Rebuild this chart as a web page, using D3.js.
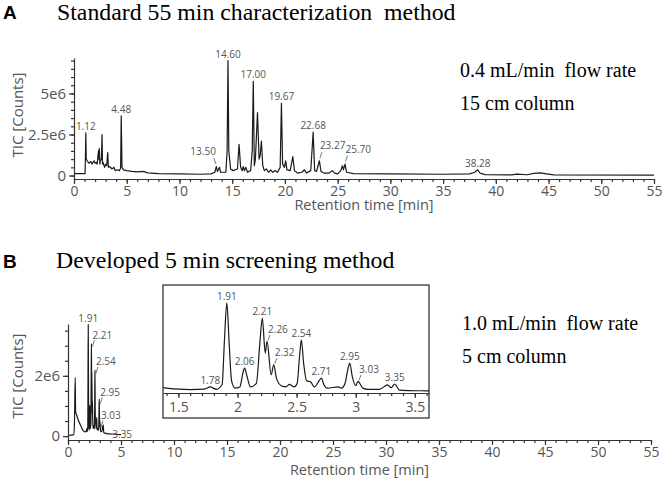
<!DOCTYPE html>
<html>
<head>
<meta charset="utf-8">
<script src="https://cdn.jsdelivr.net/npm/d3@7"></script>
<style>
  body { margin: 0; background: #fff; }
  svg text { white-space: pre; }
  .sans { font-family: "Open Sans", "Noto Sans", sans-serif; }
  .serif { font-family: "Liberation Serif", "Times New Roman", serif; }
  .axis path, .axis line { stroke: #333; stroke-width: 1.2; }
  .axis text { fill: #555; font-family: "Open Sans", sans-serif; }
</style>
</head>
<body>
<svg id="chart" width="666" height="495"></svg>
<script>
// Panel A: standard 55 min method, [time min, TIC x 1e6]
const traceA = [[0, 0.12], [1.05, 0.12], [1.08, 1.0], [1.12, 2.6], [1.16, 1.0], [1.25, 0.9], [1.4, 0.75],
  [1.6, 0.85], [1.7, 0.7], [1.9, 0.9], [2.0, 0.75], [2.1, 0.8], [2.2, 0.7], [2.32, 1.5], [2.36, 1.0],
  [2.4, 1.65], [2.45, 0.7], [2.5, 0.9], [2.6, 1.0], [2.66, 2.5], [2.7, 0.7], [2.75, 0.8], [2.9, 0.5],
  [3.0, 0.7], [3.1, 0.6], [3.2, 1.4], [3.26, 0.5], [3.4, 0.55], [3.6, 0.4], [3.8, 0.5], [3.9, 0.3],
  [4.1, 0.35], [4.3, 0.3], [4.42, 0.45], [4.48, 3.64], [4.55, 0.5], [4.7, 0.35], [5.0, 0.3], [5.5, 0.25],
  [6.0, 0.22], [6.5, 0.25], [6.7, 0.22], [7.0, 0.16], [8, 0.12], [10, 0.1], [12, 0.08], [13.0, 0.1],
  [13.35, 0.2], [13.5, 0.55], [13.6, 0.25], [13.8, 0.5], [13.9, 0.2], [14.4, 0.2], [14.52, 1.5],
  [14.6, 7.0], [14.68, 1.5], [14.85, 0.4], [15.1, 0.3], [15.5, 0.4], [15.65, 1.9], [15.8, 0.5],
  [15.95, 0.3], [16.05, 0.55], [16.15, 0.3], [16.3, 0.5], [16.45, 0.2], [16.75, 0.3], [16.9, 1.5],
  [17.0, 5.74], [17.1, 0.6], [17.2, 1.0], [17.4, 3.84], [17.55, 1.0], [17.65, 1.2], [17.77, 2.1],
  [17.9, 0.6], [18.05, 0.3], [18.25, 0.4], [18.45, 0.2], [18.65, 0.35], [18.85, 0.2], [19.05, 0.3],
  [19.3, 0.2], [19.55, 0.5], [19.67, 4.4], [19.78, 0.7], [19.95, 0.5], [20.07, 0.9], [20.2, 0.35],
  [20.5, 0.3], [20.75, 1.16], [20.9, 0.3], [21.2, 0.15], [21.6, 0.2], [21.85, 0.35], [22.05, 0.15],
  [22.45, 0.3], [22.68, 2.64], [22.82, 0.3], [23.0, 0.25], [23.27, 0.9], [23.42, 0.25], [23.7, 0.15],
  [24.2, 0.15], [24.5, 0.3], [24.7, 0.15], [25.0, 0.1], [25.3, 0.3], [25.45, 0.6], [25.55, 0.35],
  [25.7, 0.7], [25.85, 0.2], [26.5, 0.12], [30, 0.1], [35, 0.08], [37.5, 0.1], [38.0, 0.2], [38.28, 0.35],
  [38.5, 0.15], [39, 0.06], [41.5, 0.04], [42, 0.09], [43, 0.05], [43.6, 0.13], [44.2, 0.16], [44.8, 0.1],
  [45.5, 0.04], [55, 0.03]];
const peakLabelsA = ["1.12", "4.48", "13.50", "14.60", "17.00", "19.67", "22.68", "23.27", "25.70", "38.28"];
const peakTimesA = [1.12, 4.48, 13.5, 14.6, 17.0, 19.67, 22.68, 23.27, 25.7, 38.28];
const peakHeightsA = [2.6, 3.64, 0.55, 7.0, 5.74, 4.4, 2.64, 0.9, 0.7, 0.35];

// Panel B: developed 5 min method, [time min, TIC x 1e6]
const traceB = [[0, 0.02], [0.55, 0.05], [0.62, 0.6], [0.68, 1.94], [0.72, 0.8], [0.8, 0.72], [1.0, 0.5],
  [1.2, 0.35], [1.4, 0.2], [1.6, 0.14], [1.72, 0.16], [1.77, 0.25], [1.82, 0.15], [1.87, 0.35], [1.89, 2.2],
  [1.91, 3.7], [1.93, 2.0], [1.95, 0.5], [1.98, 0.2], [2.02, 0.25], [2.045, 0.8], [2.06, 1.02], [2.08, 0.7],
  [2.11, 0.25], [2.16, 0.4], [2.19, 2.1], [2.21, 3.07], [2.235, 1.64], [2.25, 2.12], [2.285, 0.75],
  [2.307, 1.16], [2.33, 0.6], [2.37, 0.3], [2.41, 0.25], [2.44, 0.35], [2.48, 0.25], [2.505, 0.4],
  [2.525, 1.5], [2.54, 2.18], [2.56, 1.2], [2.585, 0.5], [2.62, 0.45], [2.65, 0.25], [2.69, 0.5],
  [2.71, 0.61], [2.73, 0.35], [2.76, 0.2], [2.85, 0.25], [2.88, 0.2], [2.91, 0.4], [2.935, 1.0],
  [2.95, 1.23], [2.97, 0.7], [3.0, 0.3], [3.02, 0.48], [3.06, 0.2], [3.1, 0.15], [3.2, 0.15], [3.27, 0.33],
  [3.3, 0.22], [3.33, 0.37], [3.37, 0.12], [3.45, 0.1], [3.6, 0.09], [4.0, 0.07], [5.0, 0.05]];
const peakLabelsB = ["1.91", "2.21", "2.54", "2.95", "3.03", "3.35"];
const peakLabelsInset = ["1.78", "1.91", "2.06", "2.21", "2.26", "2.32", "2.54", "2.71", "2.95", "3.03", "3.35"];
const peakTimesInset = [1.77, 1.91, 2.06, 2.21, 2.25, 2.307, 2.54, 2.71, 2.95, 3.02, 3.33];
const peakHeightsInset = [0.25, 3.7, 1.02, 3.07, 2.12, 1.16, 2.18, 0.61, 1.23, 0.48, 0.37];

// Axis ticks
const xTicks = [0, 5, 10, 15, 20, 25, 30, 35, 40, 45, 50, 55];
const xMinorTicks = d3.range(0, 56, 1);
const yTicksA = [0, 2.5, 5];
const yTickLabelsA = ["0", "2.5e6", "5e6"];
const yMinorTicksA = d3.range(0, 7.01, 0.5);
const yTicksB = [0, 2];
const yTickLabelsB = ["0", "2e6"];
const yMinorTicksB = d3.range(0, 3.51, 0.5);
const insetTicks = [1.5, 2, 2.5, 3, 3.5];
const insetMinorTicks = d3.range(1.4, 3.61, 0.1);

const svg = d3.select("#chart");
const traceColor = "#1a1a1a";
const labelColor = "#555";

// Scales
const xA = d3.scaleLinear().domain([0, 55]).range([74, 654]);
const yA = d3.scaleLinear().domain([-0.21, 7.16]).range([179, 58]);
const xB = d3.scaleLinear().domain([0, 55]).range([68, 651]);
const yB = d3.scaleLinear().domain([-0.13, 3.72]).range([440, 324]);
const inset = { x: 163, y: 285, w: 266, h: 133, axisY: 393 };
const xI = d3.scaleLinear().domain([1.37, 3.62]).range([inset.x, inset.x + inset.w]);
const yI = d3.scaleLinear().domain([0, 3.9]).range([inset.axisY, 298]);

function drawAxes(g, x, y, yTicks, yLabels, yMinor, xLabelY, yLabelMid) {
  const y0 = y.range()[0];
  const xLeft = x.range()[0];
  g.append("g").attr("class", "axis")
    .attr("transform", `translate(0,${y0})`)
    .call(d3.axisBottom(x).tickValues(xMinorTicks).tickSize(3).tickSizeOuter(0))
    .call((s) => s.select(".domain").remove())
    .call((s) => s.selectAll("text").remove());
  g.append("g").attr("class", "axis")
    .attr("transform", `translate(0,${y0})`)
    .call(d3.axisBottom(x).tickValues(xTicks).tickSize(5).tickSizeOuter(0).tickPadding(2))
    .call((s) => s.selectAll("text").style("font-size", "14px"));
  g.append("g").attr("class", "axis")
    .attr("transform", `translate(${xLeft},0)`)
    .call(d3.axisLeft(y).tickValues(yMinor).tickSize(3).tickSizeOuter(0))
    .call((s) => s.select(".domain").remove())
    .call((s) => s.selectAll("text").remove());
  g.append("g").attr("class", "axis")
    .attr("transform", `translate(${xLeft},0)`)
    .call(d3.axisLeft(y).tickValues(yTicks).tickSize(5).tickSizeOuter(0).tickPadding(3)
      .tickFormat((d, i) => yLabels[i]))
    .call((s) => s.selectAll("text").style("font-size", "15px"));

  g.append("text").attr("class", "sans")
    .attr("x", (x.range()[0] + x.range()[1]) / 2).attr("y", xLabelY)
    .attr("text-anchor", "middle").attr("fill", labelColor).style("font-size", "14.5px")
    .text("Retention time [min]");
  g.append("text").attr("class", "sans")
    .attr("transform", `translate(23,${yLabelMid}) rotate(-90)`)
    .attr("text-anchor", "middle").attr("fill", labelColor).style("font-size", "15px")
    .text("TIC [Counts]");
}

function drawTrace(g, trace, x, y, curve) {
  const line = d3.line().x((d) => x(d[0])).y((d) => y(d[1])).curve(curve);
  g.append("path")
    .datum(trace)
    .attr("d", line)
    .attr("fill", "none")
    .attr("stroke", traceColor)
    .attr("stroke-width", 1.2)
    .attr("stroke-linejoin", "round");
}

// label layout: "c" centered above, "r"/"l" with leader, "b" stacked with leader, "h" dash, "s" small leader
function drawPeakLabels(g, labels, times, heights, x, y, layout) {
  labels.forEach((txt, i) => {
    const px = x(times[i]);
    const py = y(heights[i]);
    const lay = layout[i] || { type: "c" };
    const t = g.append("text").attr("class", "sans").attr("fill", labelColor)
      .style("font-size", "10px").text(txt);
    const leader = (x1, y1, x2, y2) => g.append("line")
      .attr("x1", x1).attr("y1", y1).attr("x2", x2).attr("y2", y2)
      .attr("stroke", labelColor).attr("stroke-width", 0.8);
    if (lay.type === "c") {
      t.attr("x", px).attr("y", py - 3).attr("text-anchor", "middle");
    } else if (lay.type === "r" || lay.type === "l") {
      const s = lay.type === "r" ? 1 : -1;
      t.attr("x", px + s * 0.5).attr("y", py - 11.5).attr("text-anchor", s > 0 ? "start" : "end");
      leader(px + s * 0.5, py - 2.5, px + s * 2.5, py - 8.5);
    } else if (lay.type === "b") {
      const ly = py + lay.dy;
      t.attr("x", px + 1).attr("y", ly).attr("text-anchor", "start");
      leader(px + 3, ly + 1.5, px + 1, ly + 8);
    } else if (lay.type === "h") {
      const ly = y(0) + 2;
      t.attr("x", px + 9).attr("y", ly).attr("text-anchor", "start");
      leader(px + 2.5, ly - 4, px + 8, ly - 4.5);
    } else if (lay.type === "s") {
      t.attr("x", px + 1).attr("y", py - 8.5).attr("text-anchor", "start");
      leader(px + 1, py - 1, px + 3, py - 6.5);
    }
  });
}

// ---------- Panel A ----------
const gA = svg.append("g");
svg.append("text").attr("x", 3).attr("y", 19)
  .style("font-family", "'Liberation Sans', Arial, sans-serif").style("font-weight", "bold")
  .style("font-size", "19px").text("A");
svg.append("text").attr("class", "serif").attr("x", 57).attr("y", 20)
  .style("font-size", "23.8px").text("Standard 55 min characterization  method");
svg.append("text").attr("class", "serif").attr("x", 460).attr("y", 77)
  .style("font-size", "20px").text("0.4 mL/min  flow rate");
svg.append("text").attr("class", "serif").attr("x", 460).attr("y", 110)
  .style("font-size", "20px").text("15 cm column");

drawTrace(gA, traceA, xA, yA, d3.curveLinear);
drawAxes(gA, xA, yA, yTicksA, yTickLabelsA, yMinorTicksA, 210, 115);
drawPeakLabels(gA, peakLabelsA, peakTimesA, peakHeightsA, xA, yA,
  [{ type: "c" }, { type: "c" }, { type: "l" }, { type: "c" }, { type: "c" }, { type: "c" },
   { type: "c" }, { type: "r" }, { type: "r" }, { type: "c" }]);

// ---------- Panel B ----------
const gB = svg.append("g");
svg.append("text").attr("x", 3).attr("y", 268)
  .style("font-family", "'Liberation Sans', Arial, sans-serif").style("font-weight", "bold")
  .style("font-size", "19px").text("B");
svg.append("text").attr("class", "serif").attr("x", 56).attr("y", 268)
  .style("font-size", "23.8px").text("Developed 5 min screening method");
svg.append("text").attr("class", "serif").attr("x", 462).attr("y", 330)
  .style("font-size", "20px").text("1.0 mL/min  flow rate");
svg.append("text").attr("class", "serif").attr("x", 462).attr("y", 363)
  .style("font-size", "20px").text("5 cm column");

drawTrace(gB, traceB, xB, yB, d3.curveMonotoneX);
drawAxes(gB, xB, yB, yTicksB, yTickLabelsB, yMinorTicksB, 475, 376);
const mainIdx = peakLabelsB.map((l) => peakLabelsInset.indexOf(l));
drawPeakLabels(gB, peakLabelsB, mainIdx.map((i) => peakTimesInset[i]), mainIdx.map((i) => peakHeightsInset[i]),
  xB, yB,
  [{ type: "c" }, { type: "b", dy: -5 }, { type: "b", dy: -5 }, { type: "b", dy: -3 }, { type: "b", dy: -2.5 },
   { type: "h" }]);

// ---------- Inset ----------
const gI = svg.append("g");
gI.append("rect").attr("x", inset.x).attr("y", inset.y).attr("width", inset.w).attr("height", inset.h)
  .attr("fill", "#fff").attr("stroke", "#333").attr("stroke-width", 1.3);
gI.append("clipPath").attr("id", "inset-clip").append("rect")
  .attr("x", inset.x).attr("y", inset.y).attr("width", inset.w).attr("height", inset.axisY - inset.y);
const gIT = gI.append("g").attr("clip-path", "url(#inset-clip)");
drawTrace(gIT, traceB, xI, yI, d3.curveMonotoneX);
gI.append("g").attr("class", "axis")
  .attr("transform", `translate(0,${inset.axisY})`)
  .call(d3.axisBottom(xI).tickValues(insetMinorTicks).tickSize(3).tickSizeOuter(0))
  .call((s) => s.selectAll("text").remove());
gI.append("g").attr("class", "axis")
  .attr("transform", `translate(0,${inset.axisY})`)
  .call(d3.axisBottom(xI).tickValues(insetTicks).tickSize(5).tickSizeOuter(0).tickPadding(4)
    .tickFormat((d) => String(d)))
  .call((s) => s.select(".domain").remove())
  .call((s) => s.selectAll("text").style("font-size", "14px"));
drawPeakLabels(gI, peakLabelsInset, peakTimesInset, peakHeightsInset, xI, yI,
  [{ type: "c" }, { type: "c" }, { type: "c" }, { type: "c" }, { type: "s" }, { type: "s" }, { type: "c" },
   { type: "c" }, { type: "c" }, { type: "s" }, { type: "c" }]);
</script>
</body>
</html>
